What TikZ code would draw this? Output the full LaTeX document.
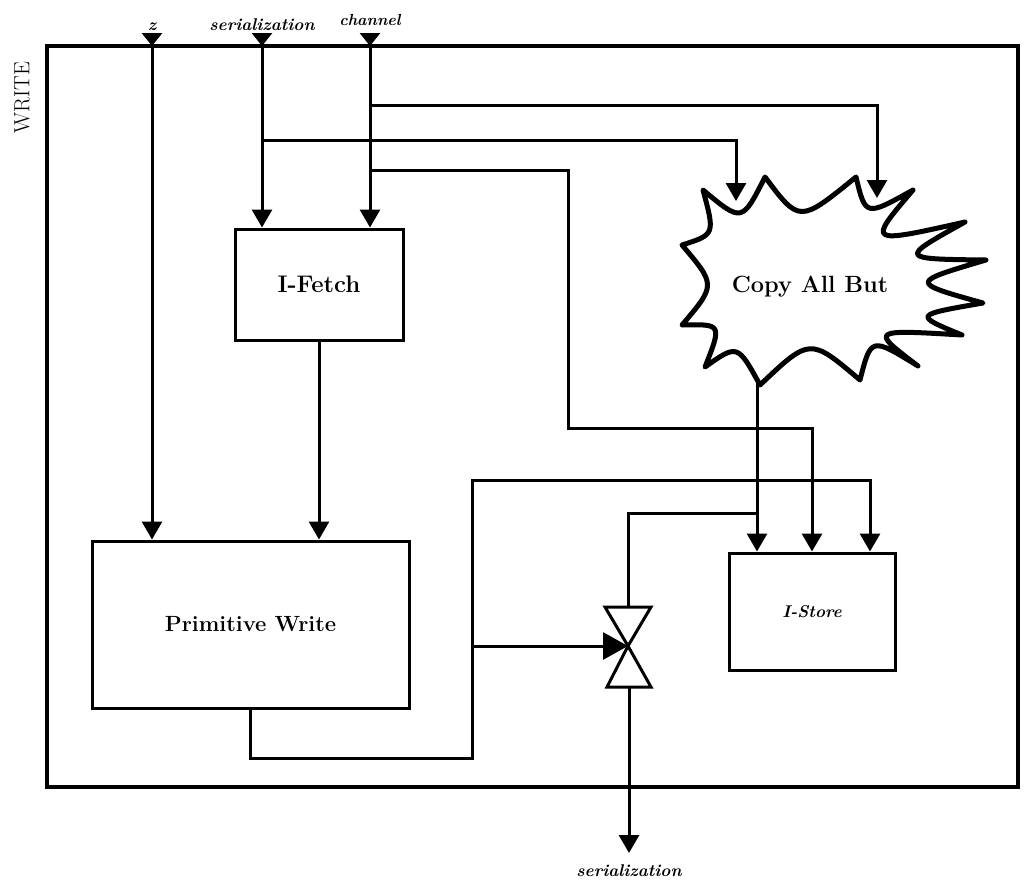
\documentclass[tikz,border=0pt]{standalone}
\usepackage{fontspec}
\usetikzlibrary{arrows.meta}
\begin{document}
\begin{tikzpicture}[x=1pt,y=-1pt,line width=3pt,
  arr/.style={-{Triangle[width=20pt,length=18pt]}},
  entry/.style={-{Triangle[width=20pt,length=13pt]}},
  varr/.style={-{Triangle[width=27pt,length=25pt]}},
  box/.style={draw,line width=3pt,inner sep=0pt},
  lab/.style={font=\fontsize{23}{27}\selectfont\bfseries},
  io/.style={font=\fontsize{17}{20}\selectfont\bfseries\itshape}]
\useasboundingbox (0,0) rectangle (1026,884);

% frame and title
\node[draw,line width=4.5pt,minimum width=971pt,minimum height=741pt,inner sep=0pt] (frame) at (532.5,416.5) {};
\node[rotate=90,font=\fontsize{22}{26}\selectfont] (title) at (22,98) {WRITE};

% boxes
\node[box,lab,font=\fontsize{24}{28}\selectfont\bfseries,minimum width=168pt,minimum height=111pt] (ifetch) at (319,284.5) {I-Fetch};
\node[box,lab,font=\fontsize{22}{26}\selectfont\bfseries,minimum width=317pt,minimum height=167pt] (pw) at (250.5,624.5) {Primitive Write};
\node[box,minimum width=166pt,minimum height=117pt,font=\fontsize{17}{20}\selectfont\bfseries\itshape] (istore) at (812,611.5) {I-Store};

% cloud
\draw[line width=5pt,line join=round]
  (703,190) .. controls (742,222.5) .. (765,177)
  .. controls (799.5,223) .. (856,177)
  .. controls (865.5,216.5) .. (913,190)
  .. controls (867,244) .. (965,222)
  .. controls (898.5,259) .. (986,260)
  .. controls (909.5,282.5) .. (983,303)
  .. controls (913.5,315) .. (962,335)
  .. controls (870,329.5) .. (918,366)
  .. controls (871,337) .. (860,380)
  .. controls (810,337.5) .. (760,385)
  .. controls (737.5,344) .. (705,367)
  .. controls (722,324) .. (682,325)
  .. controls (716,285) .. (682,245)
  .. controls (715,234.5) .. (703,190) -- cycle;
\node[lab,font=\fontsize{23.5}{27}\selectfont\bfseries] (cab) at (810,287) {Copy All But};

% inputs
\node[io,anchor=base] (zlab) at (152,30) {z};
\node[io,anchor=base] (slab) at (262,30) {serialization};
\node[io,font=\fontsize{16}{19}\selectfont\bfseries\itshape,anchor=base] (clab) at (370,25) {channel};
\coordinate (zt) at (152,33); \coordinate (zin) at (152,46);
\coordinate (st) at (262,33); \coordinate (sin) at (262,46);
\coordinate (ct) at (370,33); \coordinate (cin) at (370,46);
\draw[entry] (zt) -- (zin);
\draw[entry] (st) -- (sin);
\draw[entry] (ct) -- (cin);

\draw[arr] (zin) -- (zin |- pw.north);
\draw[arr] (sin) -- (sin |- ifetch.north);
\draw[arr] (cin) -- (cin |- ifetch.north);

% branches to the cloud
\coordinate (sj) at (262,140);
\coordinate (cloudA) at (736,201);
\draw[arr] (sj) -| (cloudA);
\coordinate (cj1) at (370,105);
\coordinate (cloudB) at (877,198);
\draw[arr] (cj1) -| (cloudB);

% channel to I-Store
\coordinate (cj2) at (370,170);
\coordinate (b1) at (568,428);
\draw[arr] (cj2) -| (b1) -| (istore.north);

% I-Fetch to Primitive Write
\draw[arr] (ifetch.south) -- (ifetch.south |- pw.north);

% cloud to I-Store and valve
\coordinate (cloudC) at (757,383);
\coordinate (isL) at ([xshift=-55pt]istore.north);
\draw[arr] (cloudC) -- (isL);
\coordinate (vj) at (757,513);
\coordinate (valve) at (628,646);
\coordinate (vtop) at (628,607);
\coordinate (vbot) at (629,687);
\draw (vj) -| (vtop);

% valve
\draw[line join=miter] (605,607) -- (651,607) -- (valve) -- cycle;
\draw[line join=miter] (607,687) -- (651,687) -- (valve) -- cycle;

% Primitive Write output
\coordinate (b2) at (472,758);
\coordinate (b3) at (472,480);
\coordinate (isR) at ([xshift=58pt]istore.north);
\draw[arr] (pw.south) |- (b2) -- (b3) -| (isR);
\coordinate (vj2) at (472,646);
\draw[varr] (vj2) -- (valve);

% output
\coordinate (outc) at (629,853);
\draw[arr] (vbot) -- (outc);
\node[io,anchor=base] (olab) at (629,876) {serialization};
\end{tikzpicture}
\end{document}
